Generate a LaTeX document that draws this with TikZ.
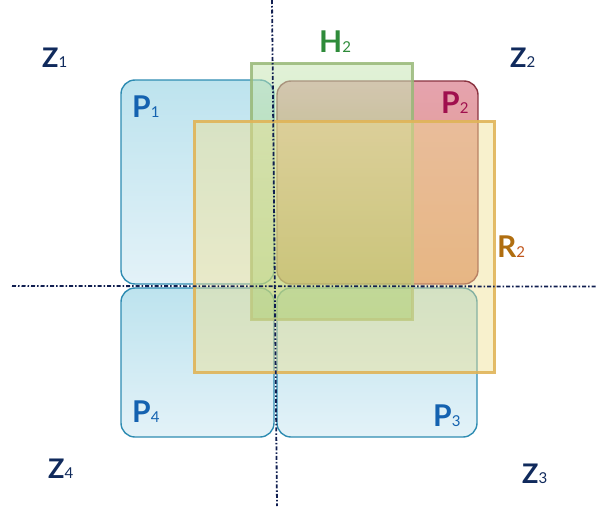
\documentclass[tikz,border=0pt]{standalone}
\usepackage{fontspec}
\setmainfont{Lato}
\definecolor{navy}{HTML}{102A5C}
\definecolor{axiscol}{HTML}{101E50}
\definecolor{pblue}{HTML}{1462B0}
\definecolor{pstroke}{HTML}{2E8CB2}
\definecolor{ptop}{HTML}{BDE3EE}
\definecolor{pbot}{HTML}{E3F2F8}
\definecolor{ptwotop}{HTML}{E5A3AE}
\definecolor{ptwobot}{HTML}{E0957A}
\definecolor{ptwostroke}{HTML}{8A3340}
\definecolor{ptwotext}{HTML}{A0104E}
\definecolor{htop}{HTML}{CAE7B8}
\definecolor{hbot}{HTML}{78C050}
\definecolor{hstroke}{HTML}{98B878}
\definecolor{htext}{HTML}{2E8B3A}
\definecolor{rfill}{HTML}{F0E090}
\definecolor{rstroke}{HTML}{E0B458}
\definecolor{rtext}{HTML}{B06E10}
\definecolor{rsub}{HTML}{C0561C}
\tikzset{
  pbox/.style={draw=pstroke, line width=1.4pt, rounded corners=14pt, top color=ptop, bottom color=pbot, inner sep=0pt},
  ptwobox/.style={draw=ptwostroke, line width=1.4pt, rounded corners=14pt, top color=ptwotop, bottom color=ptwobot, inner sep=0pt},
  hbox/.style={draw=hstroke, draw opacity=0.85, line width=3pt, top color=htop, bottom color=hbot, fill opacity=0.55, inner sep=0pt},
  rbox/.style={draw=rstroke, draw opacity=0.9, line width=3pt, fill=rfill, fill opacity=0.45, inner sep=0pt},
  axis/.style={draw=axiscol, line width=1.8pt, dash pattern=on 4pt off 2pt on 1.5pt off 2pt},
  lbl/.style={anchor=base west, inner sep=0pt, font=\fontsize{30}{30}\selectfont\bfseries},
  zlbl/.style={lbl, text=navy, font=\fontsize{27}{27}\selectfont\bfseries}
}
\newcommand{\lab}[2]{#1{\fontsize{15}{15}\selectfont\mdseries #2}}
\begin{document}
\begin{tikzpicture}[x=1pt,y=-1pt]
\useasboundingbox (0,0) rectangle (597,506);
% P boxes
\node[pbox, minimum width=153pt, minimum height=204pt] (P1) at (197.5,182) {};
\node[ptwobox, minimum width=201pt, minimum height=203pt] (P2) at (377.5,182.5) {};
\node[pbox, minimum width=153pt, minimum height=149pt] (P4) at (197.5,362.5) {};
\node[pbox, minimum width=200pt, minimum height=149pt] (P3) at (377,362.5) {};
% H2 and R2
\node[hbox, minimum width=161pt, minimum height=256pt] (H2) at (331.5,191) {};
\node[rbox, minimum width=300pt, minimum height=251pt] (R2) at (344,246.5) {};
% axes
\coordinate (vt) at (272,0);
\coordinate (vb) at (277,506);
\coordinate (hl) at (12,286);
\coordinate (hr) at (597,286.5);
\draw[axis] (vt) -- (vb);
\draw[axis] (hl) -- (hr);
% labels
\node[zlbl] (z1) at (42,67) {\lab{Z}{1}};
\node[zlbl] (z2) at (510,67) {\lab{Z}{2}};
\node[zlbl] (z4) at (48,478) {\lab{Z}{4}};
\node[zlbl] (z3) at (522,483) {\lab{Z}{3}};
\node[lbl, text=pblue] (p1) at (132,117) {\lab{P}{1}};
\node[lbl, text=ptwotext] (p2) at (441,113) {\lab{P}{2}};
\node[lbl, text=pblue] (p3) at (433,426) {\lab{P}{3}};
\node[lbl, text=pblue] (p4) at (132,422) {\lab{P}{4}};
\node[lbl, text=htext] (h2) at (319,52) {\lab{H}{2}};
\node[lbl, text=rtext] (r2) at (497,257) {R{\color{rsub}\fontsize{15}{15}\selectfont\mdseries 2}};
\end{tikzpicture}
\end{document}
